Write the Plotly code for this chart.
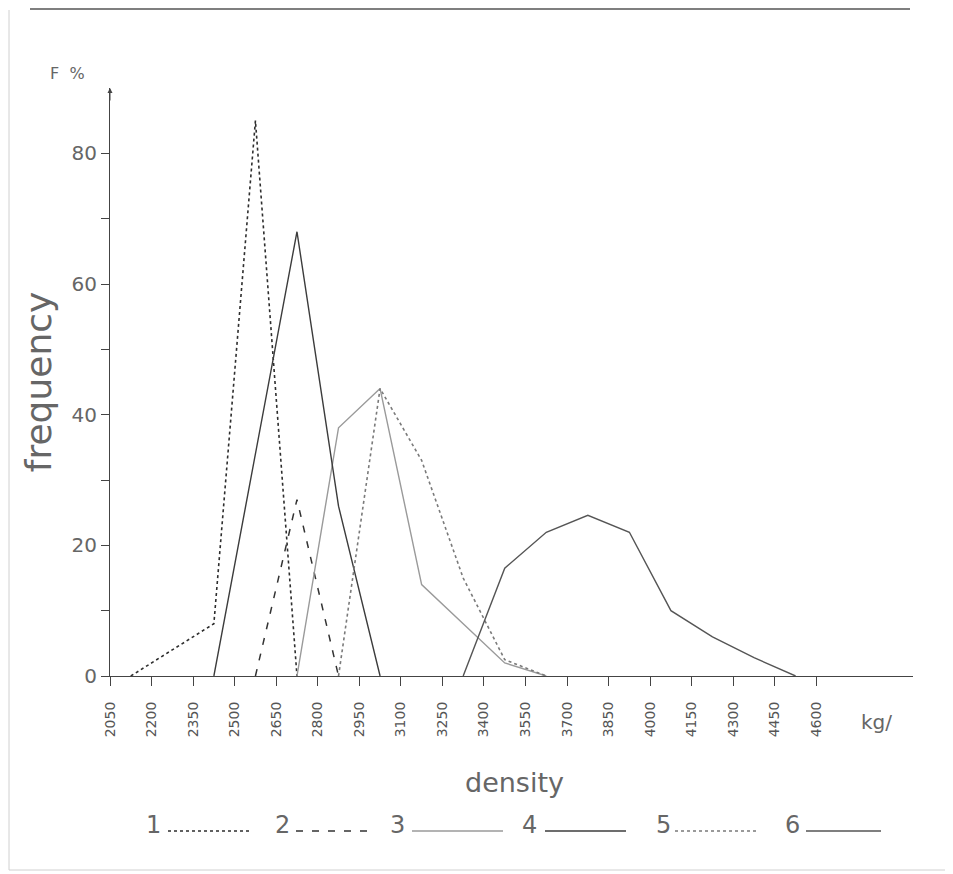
import plotly.graph_objects as go

# ---- data ----
bin_centers = [2125, 2275, 2425, 2575, 2725, 2875, 3025, 3175, 3325,
               3475, 3625, 3775, 3925, 4075, 4225, 4375, 4525]
series_names = ["1", "2", "3", "4", "5", "6"]
s1 = [0, 4, 8, 85, 0, None, None, None, None, None, None, None, None, None, None, None, None]
s2 = [None, None, None, 0, 27, 0, None, None, None, None, None, None, None, None, None, None, None]
s3 = [None, None, None, None, 0, 38, 44, 14, 8, 2, 0, None, None, None, None, None, None]
s4 = [None, None, 0, 34, 68, 26, 0, None, None, None, None, None, None, None, None, None, None]
s5 = [None, None, None, None, None, 0, 44, 33, 15, 2.5, 0, None, None, None, None, None, None]
s6 = [None, None, None, None, None, None, None, None, 0, 16.5, 22, 24.6, 22, 10, 6, 2.8, 0]
x_tick_vals = [2050, 2200, 2350, 2500, 2650, 2800, 2950, 3100, 3250,
               3400, 3550, 3700, 3850, 4000, 4150, 4300, 4450, 4600]
x_tick_text = [str(v) for v in x_tick_vals]
y_tick_vals = [0, 10, 20, 30, 40, 50, 60, 70, 80]
y_tick_text = ["0", "", "20", "", "40", "", "60", "", "80"]

all_series = [s1, s2, s3, s4, s5, s6]
styles = [
    dict(color="#2e2e2e", dash="dot", width=1.6),
    dict(color="#333333", dash="7px,9px", width=1.5),
    dict(color="#9a9a9a", dash="solid", width=1.4),
    dict(color="#3c3c3c", dash="solid", width=1.4),
    dict(color="#7a7a7a", dash="dot", width=1.6),
    dict(color="#555555", dash="solid", width=1.4),
]

FONT = "DejaVu Sans"
TXT = "#666666"

fig = go.Figure()
for name, ys, st in zip(series_names, all_series, styles):
    fig.add_trace(go.Scatter(x=bin_centers, y=ys, mode="lines", name=name,
                             line=st, connectgaps=False, showlegend=False))

# page has an 8px body margin -> figure is drawn at (8, 8)
W, H = 945, 866
ml, mt = 102, 80
pw, ph = 803, 588
mr = W - ml - pw
mb = H - mt - ph
OFF = 8

def px(xp):  # page pixel -> paper x
    return (xp - OFF - ml) / pw

def py(yp):  # page pixel -> paper y
    return (mt + ph - (yp - OFF)) / ph

shapes = []
annotations = []

# manual legend: number followed by a line sample
legend_num_x = [153, 282, 397, 529, 663, 792]
legend_line = [(168, 250), (296, 372), (412, 503), (545, 626), (675, 757), (806, 881)]
for name, st, nx, (x0, x1) in zip(series_names, styles, legend_num_x, legend_line):
    annotations.append(dict(x=px(nx), y=py(825), xref="paper", yref="paper",
                            xanchor="center", yanchor="middle",
                            text=name, showarrow=False,
                            font=dict(family=FONT, size=24, color=TXT)))
    shapes.append(dict(type="line", xref="paper", yref="paper",
                       x0=px(x0), x1=px(x1), y0=py(831), y1=py(831),
                       line=st))

# frame lines
shapes.append(dict(type="line", xref="paper", yref="paper",
                   x0=px(30), x1=px(910), y0=py(9), y1=py(9),
                   line=dict(color="#555555", width=1.3)))
shapes.append(dict(type="line", xref="paper", yref="paper",
                   x0=px(9), x1=px(9), y0=py(10), y1=py(870),
                   line=dict(color="#d0d0d0", width=1)))
shapes.append(dict(type="line", xref="paper", yref="paper",
                   x0=px(9), x1=px(952), y0=py(870), y1=py(870),
                   line=dict(color="#d0d0d0", width=1)))

# texts
annotations.append(dict(x=px(48), y=py(73), xref="paper", yref="paper",
                        xanchor="left", yanchor="middle",
                        text="F  %", showarrow=False,
                        font=dict(family=FONT, size=16, color=TXT)))
annotations.append(dict(x=px(876), y=py(722), xref="paper", yref="paper",
                        xanchor="center", yanchor="middle",
                        text="kg/", showarrow=False,
                        font=dict(family=FONT, size=20, color=TXT)))
annotations.append(dict(x=px(514), y=py(782), xref="paper", yref="paper",
                        xanchor="center", yanchor="middle",
                        text="density", showarrow=False,
                        font=dict(family=FONT, size=27, color=TXT)))
# arrow at top of y axis
annotations.append(dict(x=0, y=1, xref="paper", yref="paper", text="",
                        showarrow=True, ax=0, ay=14, arrowhead=2,
                        arrowsize=1, arrowwidth=1, arrowcolor="#444444"))

fig.update_layout(
    width=W, height=H,
    margin=dict(l=ml, r=mr, t=mt, b=mb),
    paper_bgcolor="white", plot_bgcolor="white",
    shapes=shapes, annotations=annotations,
    xaxis=dict(range=[2050, 2050 + 150 * pw / 41.55], showgrid=False, zeroline=False,
               showline=True, linecolor="#444444", linewidth=1.2,
               ticks="outside", ticklen=9, tickcolor="#444444", tickwidth=1.2,
               tickvals=x_tick_vals, ticktext=x_tick_text, tickangle=-90,
               ticklabelstandoff=10,
               tickfont=dict(family=FONT, size=14, color="#555555")),
    yaxis=dict(range=[0, 90], showgrid=False, zeroline=False,
               showline=True, linecolor="#444444", linewidth=1.2,
               ticks="outside", ticklen=8, tickcolor="#444444", tickwidth=1.2,
               tickvals=y_tick_vals, ticktext=y_tick_text,
               tickfont=dict(family=FONT, size=20, color=TXT),
               title=dict(text="frequency", standoff=8,
                          font=dict(family=FONT, size=36, color=TXT))),
)

fig.write_html("out.html")
